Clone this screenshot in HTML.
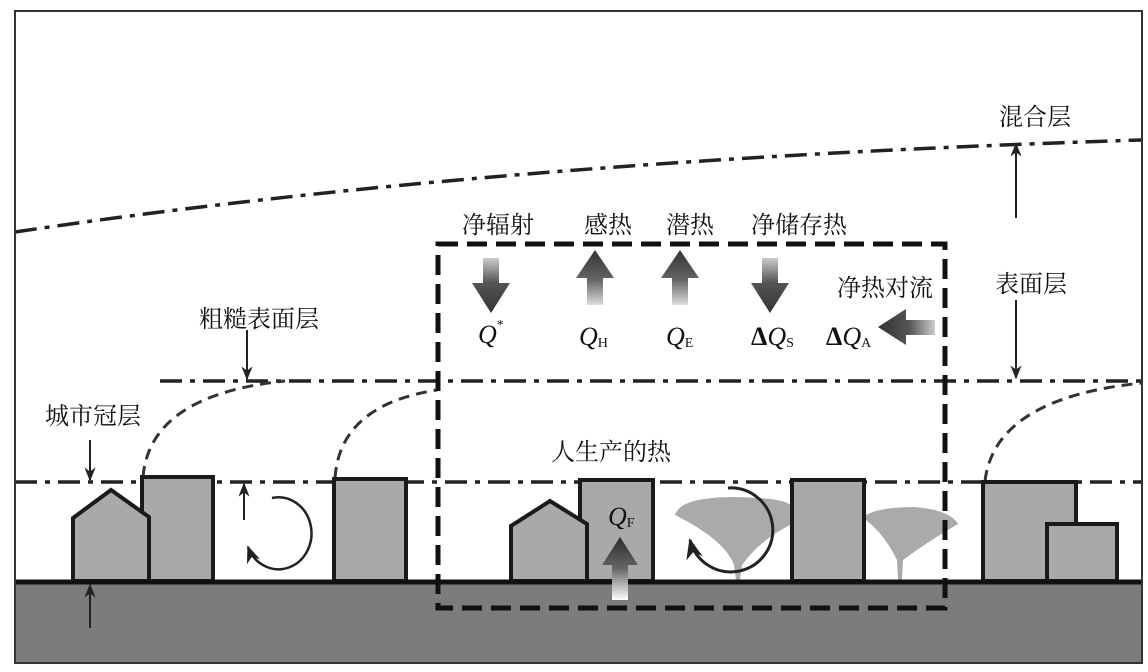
<!DOCTYPE html>
<html><head><meta charset="utf-8"><style>
html,body{margin:0;padding:0;background:#fff;}
svg{display:block;}
.cn{font-family:"Liberation Serif","Noto Serif CJK SC",serif;font-size:24px;fill:#111;}
.q{font-family:"Liberation Serif",serif;font-style:italic;font-size:26px;fill:#111;}
.sub{font-family:"Liberation Serif",serif;font-style:normal;font-size:14px;}
</style></head><body>
<svg width="1148" height="672" viewBox="0 0 1148 672" xmlns="http://www.w3.org/2000/svg">
<defs>
<linearGradient id="gd" x1="0" y1="0" x2="0" y2="1"><stop offset="0" stop-color="#ccc"/><stop offset="0.45" stop-color="#555"/><stop offset="1" stop-color="#333"/></linearGradient>
<linearGradient id="gu" x1="0" y1="1" x2="0" y2="0"><stop offset="0" stop-color="#ddd"/><stop offset="0.45" stop-color="#666"/><stop offset="1" stop-color="#333"/></linearGradient>
<linearGradient id="gl" x1="1" y1="0" x2="0" y2="0"><stop offset="0" stop-color="#ccc"/><stop offset="0.45" stop-color="#555"/><stop offset="1" stop-color="#333"/></linearGradient>
<linearGradient id="gf" x1="0" y1="1" x2="0" y2="0"><stop offset="0" stop-color="#fff"/><stop offset="0.5" stop-color="#666"/><stop offset="1" stop-color="#2a2a2a"/></linearGradient>
<marker id="ah" viewBox="0 0 10 10" refX="9" refY="5" markerWidth="7" markerHeight="7" orient="auto"><path d="M0,1 L10,5 L0,9 L3,5z" fill="#222"/></marker>
</defs>
<rect x="15" y="582" width="1127" height="81" fill="#7c7c7c"/>
<path d="M15,232 Q500,160 1142,140" fill="none" stroke="#222" stroke-width="3.5" stroke-dasharray="22,8,5,8"/>
<line x1="160" y1="381" x2="1142" y2="381" stroke="#222" stroke-width="3.5" stroke-dasharray="22,8,5,8"/>
<line x1="15" y1="482" x2="1142" y2="482" stroke="#222" stroke-width="3.5" stroke-dasharray="22,8,5,8"/>
<g fill="none" stroke="#333" stroke-width="3" stroke-dasharray="11,7">
<path d="M143,477 Q150,395 285,381"/>
<path d="M335,478 Q340,405 437,390"/>
<path d="M985,481 Q995,398 1142,383"/>
</g>
<path d="M675,515 Q680,497 735,497 Q785,498 790,505 L790,525 Q760,540 742,565 L740,580 L736,580 L734,565 Q725,540 675,515z" fill="#aaa"/>
<path d="M866,515 Q880,507 915,507 Q950,510 958,524 Q930,540 903,560 L902,580 L898,580 L897,560 Q885,535 866,520z" fill="#aaa"/>
<g fill="#a9a9a9" stroke="#1a1a1a" stroke-width="4" stroke-linejoin="miter">
<rect x="142" y="477" width="71" height="104"/>
<path d="M73,581 L73,518 L111,490 L149,517 L149,581z"/>
<rect x="334" y="479" width="72" height="102"/>
<rect x="580" y="480" width="73" height="101"/>
<path d="M511,581 L511,526 L550,501 L587,524 L587,581z"/>
<rect x="792" y="480" width="72" height="101"/>
<rect x="983" y="482" width="93" height="99"/>
<rect x="1047" y="524" width="70" height="57"/>
</g>
<line x1="15" y1="582" x2="1142" y2="582" stroke="#111" stroke-width="5"/>
<rect x="438" y="244" width="507" height="364" fill="none" stroke="#111" stroke-width="5" stroke-dasharray="20,9"/>
<rect x="15" y="11" width="1127" height="652" fill="none" stroke="#333" stroke-width="2"/>
<g stroke="#222" stroke-width="2" fill="none" marker-end="url(#ah)">
<line x1="90" y1="440" x2="90" y2="480"/>
<line x1="90" y1="628" x2="90" y2="585"/>
<line x1="247" y1="330" x2="247" y2="379"/>
<line x1="1016" y1="218" x2="1016" y2="144"/>
<line x1="1016" y1="300" x2="1016" y2="378"/>
<line x1="244" y1="520" x2="244" y2="484"/>
</g>
<path d="M272,498 A33,36 0 1 1 248,547" fill="none" stroke="#222" stroke-width="2.5" marker-end="url(#ah)"/>
<path d="M728,488 A42,42 0 1 1 690,540" fill="none" stroke="#222" stroke-width="3" marker-end="url(#ah)"/>
<path d="M483,258 L499,258 L499,283 L510,283 L491,313 L472,283 L483,283z" fill="url(#gd)"/>
<path d="M587,305 L603,305 L603,278 L614,278 L595,250 L576,278 L587,278z" fill="url(#gu)"/>
<path d="M672,305 L688,305 L688,278 L699,278 L680,250 L661,278 L672,278z" fill="url(#gu)"/>
<path d="M762,258 L778,258 L778,283 L789,283 L770,313 L751,283 L762,283z" fill="url(#gd)"/>
<path d="M935,320 L935,335 L906,335 L906,345 L878,327 L906,309 L906,320z" fill="url(#gl)"/>
<path d="M612,600 L628,600 L628,565 L638,565 L620,537 L602,565 L612,565z" fill="url(#gf)"/>
<text class="cn" x="462" y="233">净辐射</text>
<text class="cn" x="584" y="233">感热</text>
<text class="cn" x="666" y="233">潜热</text>
<text class="cn" x="751" y="233">净储存热</text>
<text class="cn" x="837" y="296">净热对流</text>
<text class="cn" x="999" y="125">混合层</text>
<text class="cn" x="995" y="292">表面层</text>
<text class="cn" x="199" y="327">粗糙表面层</text>
<text class="cn" x="45" y="424">城市冠层</text>
<text class="cn" x="551" y="460">人生产的热</text>
<text class="q" x="478" y="343">Q<tspan class="sub" dy="-14">*</tspan></text>
<text class="q" x="579" y="345">Q<tspan class="sub" dy="2">H</tspan></text>
<text class="q" x="666" y="345">Q<tspan class="sub" dy="2">E</tspan></text>
<text class="q" x="751" y="345"><tspan font-style="normal" font-weight="bold">Δ</tspan>Q<tspan class="sub" dy="2">S</tspan></text>
<text class="q" x="826" y="345"><tspan font-style="normal" font-weight="bold">Δ</tspan>Q<tspan class="sub" dy="2">A</tspan></text>
<text class="q" x="608" y="525">Q<tspan class="sub" dy="2">F</tspan></text>
</svg>
</body></html>
